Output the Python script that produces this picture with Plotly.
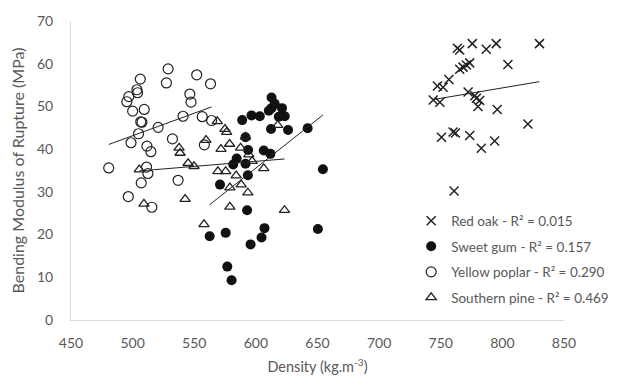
import plotly.graph_objects as go

# ---- data ----
red_oak_density = [763.5, 765.4, 775.6, 786.9, 795.0, 830.1, 804.5, 765.4, 768.1, 770.8,
                   773.5, 756.6, 747.3, 751.9, 743.9, 749.3, 772.2, 777.6, 778.9, 781.6,
                   780.2, 795.8, 820.7, 750.6, 760.0, 761.9, 773.5, 782.9, 793.7, 760.8]
red_oak_mor = [63.6, 63.2, 64.7, 63.4, 64.7, 64.7, 59.8, 58.7, 59.2, 59.7,
               60.2, 56.3, 54.8, 54.5, 51.5, 51.0, 53.4, 52.5, 51.9, 51.4,
               50.0, 49.3, 45.9, 42.8, 44.0, 43.8, 43.2, 40.2, 41.9, 30.2]

sweet_gum_density = [612.7, 615.3, 612.7, 610.5, 621.2, 618.6, 623.4, 596.5, 603.2, 588.9,
                     612.3, 626.1, 642.0, 591.6, 593.7, 606.4, 611.8, 584.4, 581.6, 591.6,
                     593.5, 654.4, 570.9, 592.9, 562.5, 575.5, 607.0, 604.6, 595.7, 650.3,
                     576.8, 580.3]
sweet_gum_mor = [52.1, 50.6, 49.6, 49.0, 49.6, 47.6, 47.7, 47.9, 47.7, 46.8,
                 44.7, 44.5, 44.9, 42.8, 39.8, 39.7, 38.9, 37.8, 36.4, 36.6,
                 33.9, 35.3, 31.7, 25.7, 19.6, 20.4, 21.5, 19.3, 17.7, 21.3,
                 12.5, 9.3]

yellow_poplar_density = [528.8, 552.0, 563.2, 506.2, 527.4, 503.5, 504.0, 496.9, 495.3, 546.4,
                         547.4, 509.4, 500.0, 507.6, 506.6, 540.9, 556.5, 564.1, 520.7, 504.8,
                         532.3, 498.7, 511.6, 514.8, 558.2, 480.6, 511.3, 512.4, 507.0, 536.9,
                         496.5, 515.6]
yellow_poplar_mor = [58.8, 57.4, 55.3, 56.4, 55.5, 53.9, 53.2, 52.3, 51.1, 52.9,
                     51.0, 49.3, 48.9, 46.3, 46.4, 47.7, 47.6, 46.7, 45.1, 43.6,
                     42.4, 41.5, 40.7, 39.4, 41.0, 35.6, 35.8, 34.3, 32.1, 32.7,
                     28.9, 26.4]

southern_pine_density = [537.7, 538.5, 559.5, 545.0, 549.8, 505.4, 542.6, 509.2, 557.9, 568.7,
                         574.9, 576.3, 617.7, 571.7, 578.7, 587.6, 594.3, 597.0, 569.2, 575.5,
                         584.0, 606.4, 578.9, 588.1, 593.5, 578.9, 623.2, 591.6]
southern_pine_mor = [40.3, 39.1, 42.1, 36.7, 36.0, 35.2, 28.3, 27.2, 22.4, 46.5,
                     44.7, 44.0, 45.6, 40.0, 41.2, 40.3, 38.7, 37.2, 34.8, 34.8,
                     33.8, 35.5, 31.0, 31.7, 29.8, 26.5, 25.7, 42.9]

# trend line end values (MPa at min and max density of each series)
red_oak_trend = [51.6, 55.8]
sweet_gum_trend = [27.0, 48.0]
yellow_poplar_trend = [41.1, 49.9]
southern_pine_trend = [34.9, 37.7]

series_names = ["Red oak - R² = 0.015", "Sweet gum - R² = 0.157",
                "Yellow poplar - R² = 0.290", "Southern pine - R² = 0.469"]

x_ticks = [450, 500, 550, 600, 650, 700, 750, 800, 850]
y_ticks = [0, 10, 20, 30, 40, 50, 60, 70]

# ---- figure ----
FONT = "Lato, Open Sans, sans-serif"
GREY = "#595959"
INK = "#222222"

series = [
    (red_oak_density, red_oak_mor, red_oak_trend,
     dict(symbol="x-thin-open", size=9, color=INK, line=dict(color=INK, width=1.5))),
    (sweet_gum_density, sweet_gum_mor, sweet_gum_trend,
     dict(symbol="circle", size=10, color="#111111", line=dict(color="#111111", width=0))),
    (yellow_poplar_density, yellow_poplar_mor, yellow_poplar_trend,
     dict(symbol="circle-open", size=10, color=INK, line=dict(color=INK, width=1.2))),
    (southern_pine_density, southern_pine_mor, southern_pine_trend,
     dict(symbol="triangle-up-open", size=9, color=INK, line=dict(color=INK, width=1.3))),
]

fig = go.Figure()
for name, (xs, ys, tr, mk) in zip(series_names, series):
    fig.add_trace(go.Scatter(
        x=xs, y=ys, mode="markers", name=name, marker=mk,
        legendgroup=name, showlegend=True,
    ))
for name, (xs, ys, tr, mk) in zip(series_names, series):
    fig.add_trace(go.Scatter(
        x=[min(xs), max(xs)], y=tr, mode="lines",
        line=dict(color=INK, width=1), showlegend=False, hoverinfo="skip",
        legendgroup=name,
    ))

fig.update_layout(
    width=626, height=385,
    margin=dict(l=71, r=60, t=17, b=59),
    paper_bgcolor="white", plot_bgcolor="white",
    font=dict(family=FONT, size=14, color=GREY),
    legend=dict(
        x=0.69, y=0.383, xanchor="left", yanchor="top",
        bgcolor="rgba(0,0,0,0)", font=dict(family=FONT, size=13.5, color=GREY),
        tracegroupgap=5, itemwidth=30,
    ),
    xaxis=dict(
        range=[450, 850], tickvals=x_ticks, ticktext=[str(v) for v in x_ticks],
        showgrid=False, zeroline=False, showline=True, linecolor="#d9d9d9", linewidth=1,
        ticks="", tickfont=dict(size=14, color=GREY), ticklabelstandoff=10,
        title=dict(text="Density (kg.m<sup>-3</sup>)", font=dict(size=14.5, color=GREY), standoff=12),
    ),
    yaxis=dict(
        range=[0, 70], tickvals=y_ticks, ticktext=[str(v) for v in y_ticks],
        showgrid=False, zeroline=False, showline=True, linecolor="#d9d9d9", linewidth=1,
        ticks="", tickfont=dict(size=14, color=GREY), ticklabelstandoff=14,
        title=dict(text="Bending Modulus of Rupture (MPa)", font=dict(size=16, color=GREY), standoff=8),
    ),
)

fig.write_html("out.html")
